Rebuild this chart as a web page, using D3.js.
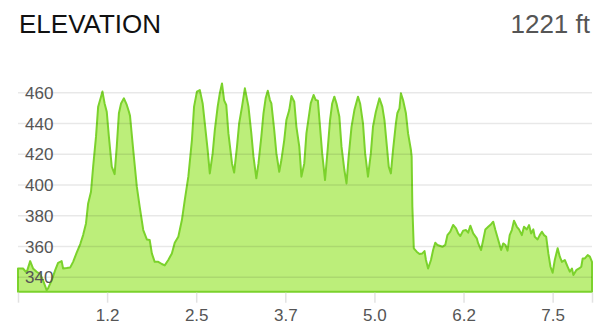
<!DOCTYPE html>
<html>
<head>
<meta charset="utf-8">
<script src="https://cdn.jsdelivr.net/npm/d3@7"></script>
<style>
  body { margin: 0; background: #fff; }
  text { font-family: "Liberation Sans", Arial, sans-serif; }
</style>
</head>
<body>
<div id="chart"></div>
<script>
// distance along the route (miles)
const distance = [
  0.00, 0.07, 0.12, 0.17, 0.21, 0.26, 0.31, 0.35, 0.40, 0.42, 0.47, 0.52, 0.56, 0.61, 0.63, 0.68,
  0.73, 0.77, 0.82, 0.87, 0.91, 0.95, 0.98, 1.02, 1.05, 1.09, 1.12, 1.16, 1.18, 1.21, 1.24, 1.27,
  1.31, 1.35, 1.38, 1.41, 1.44, 1.48, 1.52, 1.55, 1.565, 1.61, 1.66, 1.70, 1.75, 1.80, 1.84, 1.87,
  1.91, 1.96, 2.01, 2.05, 2.10, 2.15, 2.19, 2.24, 2.29, 2.33, 2.38, 2.43, 2.46, 2.50, 2.54, 2.58,
  2.61, 2.65, 2.68, 2.72, 2.75, 2.79, 2.82, 2.85, 2.88, 2.91, 2.94, 2.99, 3.02, 3.06, 3.09, 3.13,
  3.17, 3.22, 3.26, 3.29, 3.33, 3.36, 3.40, 3.43, 3.46, 3.49, 3.52, 3.54, 3.58, 3.61, 3.65, 3.68,
  3.72, 3.75, 3.79, 3.82, 3.86, 3.89, 3.93, 3.96, 4.00, 4.03, 4.07, 4.09, 4.13, 4.16, 4.19, 4.22,
  4.25, 4.29, 4.33, 4.36, 4.39, 4.42, 4.45, 4.49, 4.52, 4.56, 4.59, 4.62, 4.66, 4.70, 4.75, 4.78,
  4.82, 4.85, 4.89, 4.93, 4.96, 5.00, 5.05, 5.09, 5.12, 5.15, 5.18, 5.21, 5.24, 5.28, 5.30, 5.33,
  5.35, 5.38, 5.42, 5.45, 5.49, 5.50, 5.51, 5.53, 5.57, 5.61, 5.65, 5.68, 5.70, 5.73, 5.77, 5.80,
  5.83, 5.86, 5.90, 5.93, 5.97, 6.00, 6.04, 6.08, 6.12, 6.15, 6.18, 6.22, 6.26, 6.29, 6.32, 6.36,
  6.41, 6.43, 6.47, 6.50, 6.53, 6.57, 6.61, 6.64, 6.67, 6.71, 6.75, 6.78, 6.81, 6.84, 6.87, 6.90,
  6.93, 6.97, 7.00, 7.04, 7.07, 7.11, 7.14, 7.17, 7.20, 7.22, 7.26, 7.29, 7.32, 7.35, 7.38, 7.41,
  7.44, 7.47, 7.50, 7.54, 7.57, 7.60, 7.64, 7.68, 7.71, 7.74, 7.76, 7.80, 7.84, 7.87, 7.89, 7.92,
  7.96, 7.99, 8.02
];

// elevation (ft)
const elevation = [
  345.7, 345.7, 343, 350.5, 345.7, 343.6, 342, 338, 331.6, 332.7, 338, 344.6, 349.4, 350.5, 345.7, 346,
  346.4, 350, 356, 361.6, 367.4, 375, 388, 395.6, 411.9, 431.4, 450.9, 457.4, 460.7, 453, 447.6, 431.4,
  411.9, 407, 424.9, 446.6, 453, 456.3, 452, 447.6, 445, 422.7, 398.9, 385.9, 370.7, 364.6, 364.2, 355.5,
  350, 350, 348.6, 347.7, 351.2, 355.5, 362.4, 366.3, 377.2, 390.2, 405.4, 429.2, 450.9, 460.7, 461.7, 453,
  440, 422.7, 407.5, 420.5, 435.7, 450.9, 459.6, 466, 455, 452, 433.5, 414, 408, 424.9, 440, 450.9,
  462.8, 450.9, 433.5, 418.4, 404.3, 414, 431.4, 446.6, 456.3, 461.3, 455.2, 453, 435.7, 420.5, 408.6, 416.2,
  429.2, 442.2, 448.7, 457.8, 454.1, 437.8, 424.9, 405.4, 414, 433.5, 446.6, 453, 458.5, 455.2, 454.8, 437.8,
  420.5, 403.2, 424.9, 442.2, 453, 457.4, 453, 444.3, 424.9, 409.7, 401, 418.4, 437.8, 448.7, 457.4, 453,
  440, 420.5, 405.4, 420.5, 437.8, 447.6, 456.3, 450.9, 442.2, 427, 411.9, 407.5, 422.7, 440, 446.6, 449.8,
  459.6, 455.2, 446.6, 433.5, 422.7, 418.4, 385.9, 358.8, 356.6, 355.1, 355.5, 357, 351.2, 345.7, 351.2, 357.7,
  362.4, 361, 360.3, 359.8, 361, 367.4, 369.6, 374, 371.8, 368.5, 366.8, 370.3, 370.7, 369, 373.5, 368.5,
  365.3, 362, 357.7, 364.2, 371.1, 372.8, 374.5, 376.1, 370.7, 364.2, 357.7, 362, 361, 357.3, 367.4, 370.7,
  376.7, 372.8, 371.1, 367.4, 372.8, 371.1, 373.9, 368.5, 371.1, 366.3, 364.6, 367.4, 369.6, 367.4, 366.3, 355.5,
  346.8, 342.9, 351.2, 358.8, 353.4, 350, 351.2, 346.8, 343.6, 345.7, 341.4, 344.6, 345.7, 346.8, 352.2, 352.2,
  354.4, 353.4, 350
];

const yTicks = [340, 360, 380, 400, 420, 440, 460];
const xTicks = [1.245, 2.49, 3.735, 4.98, 6.225, 7.47];
const xTickLabels = ["1.2", "2.5", "3.7", "5.0", "6.2", "7.5"];

const title = "ELEVATION";
const total = "1221 ft";

const width = 610;
const height = 336;

const points = distance.map((d, i) => ({ d: d, e: elevation[i] }));

const svg = d3.select("#chart")
  .append("svg")
  .attr("width", width)
  .attr("height", height);

const x = d3.scaleLinear()
  .domain([0, 8.02])
  .range([18, 592]);

const y = d3.scaleLinear()
  .domain([330.6, 480])
  .range([291.7, 61.9]);

// header
svg.append("text")
  .attr("x", 19)
  .attr("y", 33)
  .attr("font-size", 26)
  .attr("fill", "#111")
  .text(title);

svg.append("text")
  .attr("x", 590)
  .attr("y", 33)
  .attr("text-anchor", "end")
  .attr("font-size", 26)
  .attr("fill", "#555")
  .text(total);

// area
const area = d3.area()
  .x(p => x(p.d))
  .y0(y(330.6))
  .y1(p => y(p.e));

svg.append("path")
  .datum(points)
  .attr("d", d => area(d) )
  .attr("fill", "#bcee7a")
  .attr("stroke", "#7bd22c")
  .attr("stroke-width", 2)
  .attr("stroke-linejoin", "round");

// grid lines on top of fill
svg.append("g")
  .selectAll("line")
  .data(yTicks)
  .enter()
  .append("line")
  .attr("x1", 18)
  .attr("x2", 592)
  .attr("y1", d => y(d))
  .attr("y2", d => y(d))
  .attr("stroke", "rgba(0,0,0,0.09)")
  .attr("stroke-width", 1.5);

// y labels
svg.append("g")
  .selectAll("text")
  .data(yTicks)
  .enter()
  .append("text")
  .attr("x", 25)
  .attr("y", d => y(d))
  .attr("dy", "0.36em")
  .attr("font-size", 17)
  .attr("fill", "#555")
  .text(d => d);

// x axis
const xAxis = d3.axisBottom(x)
  .tickValues([0].concat(xTicks, [8.02]))
  .tickSize(10)
  .tickSizeOuter(0)
  .tickFormat(d => {
    const i = xTicks.indexOf(d);
    return i < 0 ? "" : xTickLabels[i];
  });

const gx = svg.append("g")
  .attr("transform", `translate(0,${y(330.6) + 1})`)
  .call(xAxis);

gx.select(".domain").remove();
gx.selectAll(".tick line").attr("stroke", "#e2e2e2").attr("stroke-width", 1.5);
gx.selectAll(".tick text")
  .attr("font-family", "Liberation Sans, Arial, sans-serif")
  .attr("font-size", 17)
  .attr("fill", "#555")
  .attr("y", 16);
</script>
</body>
</html>
